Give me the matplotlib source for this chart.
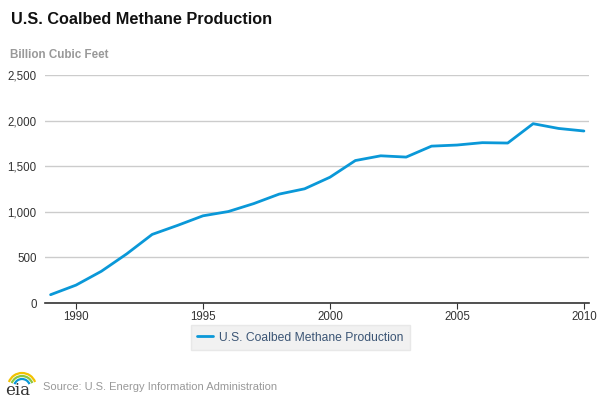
import matplotlib.pyplot as plt
from matplotlib.patches import Arc

years = list(range(1989, 2011))
production = [91, 196, 348, 539, 752, 851, 956, 1003, 1090, 1194, 1252,
              1379, 1562, 1614, 1600, 1720, 1732, 1758, 1754, 1966, 1914, 1886]
yticks = [0, 500, 1000, 1500, 2000, 2500]
xticks = [1990, 1995, 2000, 2005, 2010]

plt.rcParams["font.family"] = ["Liberation Sans", "DejaVu Sans"]

fig = plt.figure(figsize=(6, 4), dpi=100)
ax = fig.add_axes([45 / 600, 1 - 303 / 400, 544 / 600, 228 / 400])

ax.plot(years, production, color="#0a98d8", linewidth=2,
        label="U.S. Coalbed Methane Production", solid_capstyle="round")

ax.set_xlim(1988.78, 2010.2)
ax.set_ylim(0, 2500)
ax.set_yticks(yticks)
ax.set_yticklabels([f"{v:,}" for v in yticks])
ax.set_xticks(xticks)
ax.grid(axis="y", color="#cccccc", linewidth=1)
ax.set_axisbelow(True)
for s in ["top", "right", "left"]:
    ax.spines[s].set_visible(False)
ax.spines["bottom"].set_color("#333333")
ax.spines["bottom"].set_linewidth(1.2)
ax.tick_params(axis="y", length=0, labelsize=8.3, colors="#333333", pad=6)
ax.tick_params(axis="x", length=4, color="#333333", labelsize=8.3,
               colors="#333333", pad=1.5)

fig.text(11 / 600, 1 - 20 / 400, "U.S. Coalbed Methane Production",
         fontsize=11.7, fontweight="bold", color="#111111", va="center")
fig.text(10 / 600, 1 - 55 / 400, "Billion Cubic Feet", fontsize=8.4,
         fontweight="bold", color="#999999", va="center")

leg = ax.legend(loc="upper center", bbox_to_anchor=(0.4697, -0.0965),
                borderaxespad=0, frameon=True, fontsize=8.7,
                handlelength=1.3, borderpad=0.55, handletextpad=0.5)
leg.get_frame().set_facecolor("#eeeeee")
leg.get_frame().set_edgecolor("#e4e4e4")
leg.get_frame().set_boxstyle("square", pad=0)
leg.get_texts()[0].set_color("#3b5575")

fig.text(43 / 600, 1 - 387 / 400,
         "Source: U.S. Energy Information Administration",
         fontsize=8, color="#999999", va="center")

# eia logo: word plus three arcs over it
fig.text(5 / 600, 1 - 395 / 400, "eia", fontsize=12, color="#333333",
         family=["DejaVu Serif"], va="baseline")
for w, c in [(28, "#f2c200"), (22, "#8cc63f"), (16, "#0a98d8")]:
    fig.add_artist(Arc((22 / 600, 1 - 387 / 400), w / 600, w / 400,
                       theta1=30, theta2=150, color=c, linewidth=1.6,
                       transform=fig.transFigure))

fig.savefig("out.png", dpi=100)
